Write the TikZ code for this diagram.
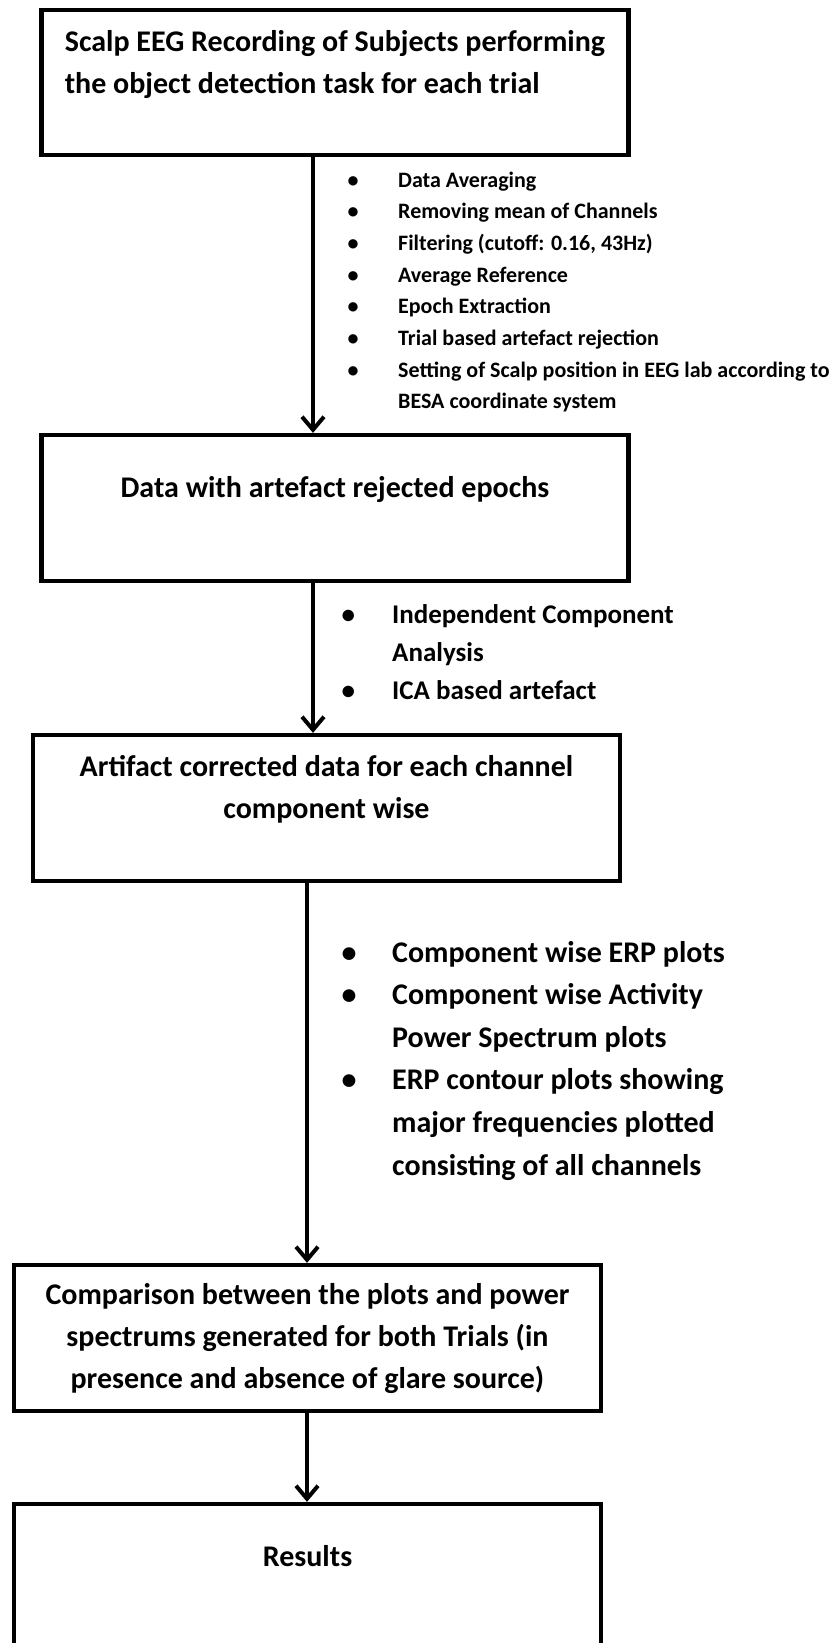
\documentclass[tikz,border=0pt]{standalone}
\usepackage{fontspec}
\setmainfont{Carlito}
\usetikzlibrary{arrows.meta}

\begin{document}
\begin{tikzpicture}[x=1pt,y=-1pt,
  box/.style={draw,line width=4.3pt,minimum width=587pt,minimum height=146pt,inner sep=0pt,
    font=\fontsize{30}{42}\selectfont\bfseries},
  steps/.style={anchor=base west,inner sep=0pt},
  flow/.style={line width=4pt,-{Straight Barb[length=13pt,width=22pt,line width=4pt]}}]
\useasboundingbox (0,0) rectangle (833,1643);
\clip (0,0) rectangle (833,1643);
\node[box,align=left,minimum height=145pt] (scalp) at (335,82.5)
  {Scalp EEG Recording of Subjects performing\\the object detection task for each trial\\\mbox{}};
\node[box,align=center] (reject) at (335,508) {Data with artefact rejected epochs\\\mbox{}};
\node[box,align=center] (artifact) at (326.5,808) {Artifact corrected data for each channel\\component wise\\\mbox{}};
\node[box,align=center] (compare) at (307.5,1338)
  {Comparison between the plots and power\\spectrums generated for both Trials (in\\presence and absence of glare source)};
\node[box,align=center] (results) at (307.5,1577) {Results\\\mbox{}};
\node[steps,font=\fontsize{22}{31.7}\selectfont\bfseries] (prep) at (347.5,187) {%
  \begin{tabular}[t]{@{}p{50.5pt}@{}l@{}}
  \textbullet & Data Averaging\\
  \textbullet & Removing mean of Channels\\
  \textbullet & Filtering (cutoff: 0.16, 43Hz)\\
  \textbullet & Average Reference\\
  \textbullet & Epoch Extraction\\
  \textbullet & Trial based artefact rejection\\
  \textbullet & Setting of Scalp position in EEG lab according to\\
  & BESA coordinate system
  \end{tabular}};
\node[steps,font=\fontsize{27}{38}\selectfont\bfseries] (ica) at (341.5,623.3) {%
  \begin{tabular}[t]{@{}p{50.5pt}@{}l@{}}
  \textbullet & Independent Component\\
  & Analysis\\
  \textbullet & ICA based artefact
  \end{tabular}};
\node[steps,font=\fontsize{30}{42.6}\selectfont\bfseries] (plots) at (341.5,962) {%
  \begin{tabular}[t]{@{}p{50.5pt}@{}l@{}}
  \textbullet & Component wise ERP plots\\
  \textbullet & Component wise Activity\\
  & Power Spectrum plots\\
  \textbullet & ERP contour plots showing\\
  & major frequencies plotted\\
  & consisting of all channels
  \end{tabular}};
\coordinate (a1) at (313,0);
\coordinate (a3) at (307,0);
\draw[flow] (scalp.south -| a1) -- (reject.north -| a1);
\draw[flow] (reject.south -| a1) -- (artifact.north -| a1);
\draw[flow] (artifact.south -| a3) -- (compare.north -| a3);
\draw[flow] (compare.south -| a3) -- (results.north -| a3);
\end{tikzpicture}
\end{document}
